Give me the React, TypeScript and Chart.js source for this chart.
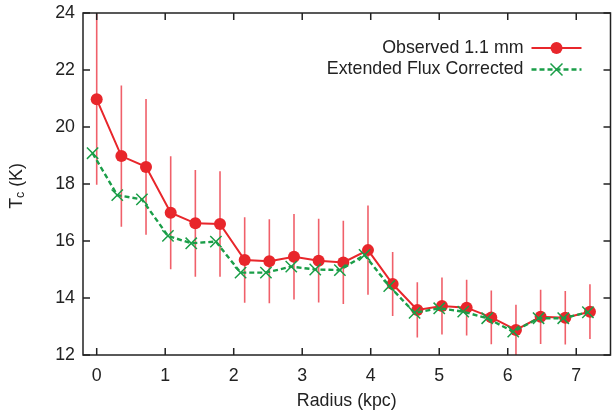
import React, { useEffect, useRef } from 'react';
import { Chart, registerables } from 'chart.js';

Chart.register(...registerables);

// ---------- data ----------
const radiusObserved = [0, 0.36, 0.72, 1.08, 1.44, 1.8, 2.16, 2.52, 2.88, 3.24, 3.6, 3.96, 4.32, 4.68, 5.04, 5.4, 5.76, 6.12, 6.48, 6.84, 7.2];
const tcObserved = [20.97, 18.98, 18.6, 16.99, 16.62, 16.6, 15.33, 15.29, 15.45, 15.31, 15.25, 15.68, 14.49, 13.58, 13.72, 13.66, 13.32, 12.88, 13.34, 13.31, 13.52];
const tcObservedErr = [3.0, 2.48, 2.38, 1.98, 1.87, 1.85, 1.5, 1.47, 1.5, 1.47, 1.46, 1.57, 1.12, 0.97, 1.0, 0.98, 0.94, 0.88, 0.95, 0.94, 0.96];
const radiusCorrected = [-0.06, 0.3, 0.66, 1.04, 1.38, 1.74, 2.1, 2.47, 2.84, 3.19, 3.55, 3.91, 4.27, 4.64, 5.0, 5.35, 5.7, 6.08, 6.45, 6.81, 7.17];
const tcCorrected = [19.08, 17.61, 17.46, 16.18, 15.92, 15.98, 14.89, 14.89, 15.1, 15.0, 14.98, 15.51, 14.42, 13.48, 13.64, 13.52, 13.29, 12.82, 13.29, 13.29, 13.5];
const xTickValues = [0, 1, 2, 3, 4, 5, 6, 7];
const yTickValues = [12, 14, 16, 18, 20, 22, 24];
const seriesLabels = ['Observed 1.1 mm', 'Extended Flux Corrected'];
const xTitle = 'Radius (kpc)';

// ---------- style ----------
const RED = '#e8262b';
const ERR = '#f0606a';
const GREEN = '#1a9e48';
const AXIS = '#222222';
const FONT = '"Liberation Sans", Arial, Helvetica, sans-serif';
const FS = 17.8;

function drawCross(ctx: CanvasRenderingContext2D, x: number, y: number, r: number) {
  ctx.beginPath();
  ctx.moveTo(x - r, y - r);
  ctx.lineTo(x + r, y + r);
  ctx.moveTo(x - r, y + r);
  ctx.lineTo(x + r, y - r);
  ctx.stroke();
}

const decorPlugin = {
  id: 'decor',
  beforeDatasetsDraw(chart: any) {
    const { ctx, chartArea: a, scales } = chart;
    ctx.save();
    ctx.beginPath();
    ctx.rect(a.left, a.top, a.right - a.left, a.bottom - a.top);
    ctx.clip();
    ctx.strokeStyle = ERR;
    ctx.lineWidth = 1.6;
    radiusObserved.forEach((r, i) => {
      const x = scales.x.getPixelForValue(r);
      const y1 = scales.y.getPixelForValue(tcObserved[i] + tcObservedErr[i]);
      const y2 = scales.y.getPixelForValue(tcObserved[i] - tcObservedErr[i]);
      ctx.beginPath();
      ctx.moveTo(x, y1);
      ctx.lineTo(x, y2);
      ctx.stroke();
    });
    ctx.restore();
  },
  afterDatasetsDraw(chart: any) {
    const { ctx, chartArea: a, scales } = chart;
    ctx.save();
    ctx.strokeStyle = AXIS;
    ctx.lineWidth = 1.5;
    ctx.strokeRect(a.left, a.top, a.right - a.left, a.bottom - a.top);
    const tl = 7;
    ctx.beginPath();
    xTickValues.forEach((v) => {
      const x = scales.x.getPixelForValue(v);
      ctx.moveTo(x, a.bottom);
      ctx.lineTo(x, a.bottom - tl);
      ctx.moveTo(x, a.top);
      ctx.lineTo(x, a.top + tl);
    });
    yTickValues.forEach((v) => {
      const y = scales.y.getPixelForValue(v);
      ctx.moveTo(a.left, y);
      ctx.lineTo(a.left + tl, y);
      ctx.moveTo(a.right, y);
      ctx.lineTo(a.right - tl, y);
    });
    ctx.stroke();
    ctx.restore();
  },
  afterDraw(chart: any) {
    const { ctx, chartArea: a } = chart;
    ctx.save();
    // legend
    const textRight = a.right - 87;
    const sx1 = a.right - 79;
    const sx2 = a.right - 29;
    const sxm = (sx1 + sx2) / 2;
    const ly1 = a.top + 35;
    const ly2 = a.top + 56.5;
    ctx.font = `${FS}px ${FONT}`;
    ctx.fillStyle = AXIS;
    ctx.textAlign = 'right';
    ctx.textBaseline = 'middle';
    ctx.fillText(seriesLabels[0], textRight, ly1);
    ctx.fillText(seriesLabels[1], textRight, ly2);
    ctx.strokeStyle = RED;
    ctx.lineWidth = 2;
    ctx.beginPath();
    ctx.moveTo(sx1, ly1);
    ctx.lineTo(sx2, ly1);
    ctx.stroke();
    ctx.fillStyle = RED;
    ctx.beginPath();
    ctx.arc(sxm, ly1, 6, 0, Math.PI * 2);
    ctx.fill();
    ctx.strokeStyle = GREEN;
    ctx.lineWidth = 2.4;
    ctx.setLineDash([5, 3]);
    ctx.beginPath();
    ctx.moveTo(sx1, ly2);
    ctx.lineTo(sx2, ly2);
    ctx.stroke();
    ctx.setLineDash([]);
    ctx.lineWidth = 1.5;
    drawCross(ctx, sxm, ly2, 6);

    // y title with subscript
    ctx.fillStyle = AXIS;
    ctx.translate(17, (a.top + a.bottom) / 2 + 2);
    ctx.rotate(-Math.PI / 2);
    ctx.textBaseline = 'middle';
    ctx.textAlign = 'left';
    ctx.font = `${FS}px ${FONT}`;
    const wT = ctx.measureText('T').width;
    ctx.font = `${FS * 0.7}px ${FONT}`;
    const wc = ctx.measureText('c').width;
    ctx.font = `${FS}px ${FONT}`;
    const wK = ctx.measureText(' (K)').width;
    const total = wT + wc + wK;
    let x0 = -total / 2;
    ctx.fillText('T', x0, 0);
    x0 += wT;
    ctx.font = `${FS * 0.7}px ${FONT}`;
    ctx.fillText('c', x0, 4);
    x0 += wc;
    ctx.font = `${FS}px ${FONT}`;
    ctx.fillText(' (K)', x0, 0);
    ctx.restore();
  },
};

export default function App() {
  const ref = useRef<HTMLCanvasElement | null>(null);
  useEffect(() => {
    if (!ref.current) return;
    const chart = new Chart(ref.current, {
      type: 'line',
      data: {
        datasets: [
          {
            label: seriesLabels[0],
            data: radiusObserved.map((r, i) => ({ x: r, y: tcObserved[i] })),
            borderColor: RED,
            backgroundColor: RED,
            borderWidth: 2,
            pointStyle: 'circle',
            pointRadius: 6,
            pointBorderWidth: 0,
            pointBackgroundColor: RED,
            order: 2,
          },
          {
            label: seriesLabels[1],
            data: radiusCorrected.map((r, i) => ({ x: r, y: tcCorrected[i] })),
            borderColor: GREEN,
            backgroundColor: GREEN,
            borderWidth: 2.4,
            borderDash: [5, 3],
            pointStyle: 'crossRot',
            pointRadius: 8,
            pointBorderWidth: 1.5,
            pointBorderColor: GREEN,
            order: 1,
          },
        ],
      },
      options: {
        responsive: false,
        animation: false,
        layout: { padding: { left: 0, right: 6, top: 13, bottom: 0 } },
        plugins: { legend: { display: false }, tooltip: { enabled: false } },
        scales: {
          x: {
            type: 'linear',
            min: -0.2,
            max: 7.5,
            grid: { display: false, drawTicks: false },
            border: { display: false },
            afterBuildTicks: (s: any) => {
              s.ticks = xTickValues.map((v) => ({ value: v }));
            },
            afterFit: (s: any) => {
              s.height = 58;
              s.paddingLeft = 0;
              s.paddingRight = 0;
            },
            ticks: {
              color: AXIS,
              font: { family: FONT, size: FS },
              padding: 10,
              maxRotation: 0,
              autoSkip: false,
            },
            title: {
              display: true,
              text: xTitle,
              color: AXIS,
              font: { family: FONT, size: FS },
              padding: { top: 0, bottom: 1 },
            },
          },
          y: {
            type: 'linear',
            min: 12,
            max: 24,
            grid: { display: false, drawTicks: false },
            border: { display: false },
            afterBuildTicks: (s: any) => {
              s.ticks = yTickValues.map((v) => ({ value: v }));
            },
            afterFit: (s: any) => {
              s.width = 83;
              s.paddingTop = 0;
              s.paddingBottom = 0;
            },
            ticks: {
              color: AXIS,
              font: { family: FONT, size: FS },
              padding: 8,
              autoSkip: false,
            },
          },
        },
      },
      plugins: [decorPlugin],
    });
    return () => chart.destroy();
  }, []);
  return (
    <div style={{ position: 'fixed', left: 0, top: 0, width: 612, height: 413, overflow: 'hidden', background: '#fff' }}>
      <canvas ref={ref} width={620} height={413} style={{ display: 'block' }} />
    </div>
  );
}
